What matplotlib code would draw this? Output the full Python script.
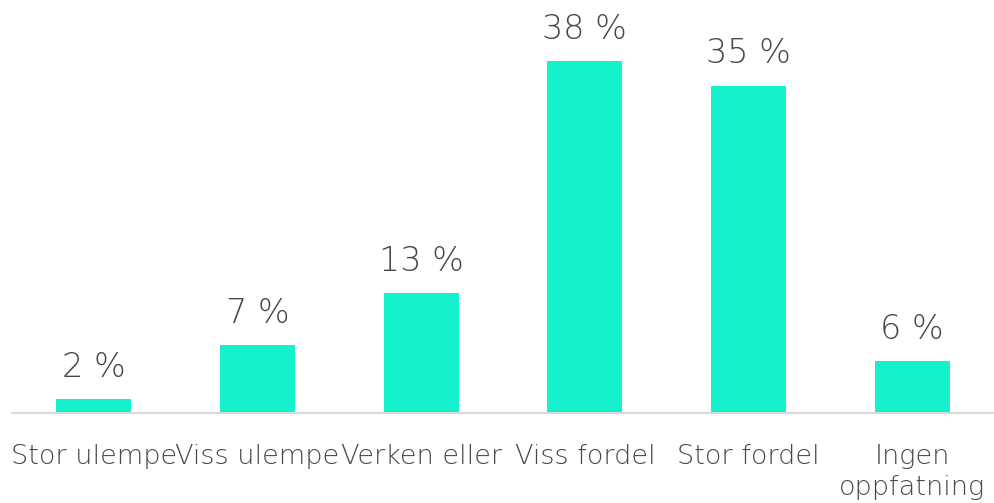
import matplotlib
matplotlib.use('Agg')
import matplotlib.pyplot as plt

# Answers and share of respondents (percent)
categories = ["Stor ulempe", "Viss ulempe", "Verken eller", "Viss fordel",
              "Stor fordel", "Ingen\noppfatning"]
shares = [1.5, 7.3, 12.9, 37.8, 35.2, 5.6]

BAR_COLOR = "#15F0CD"
TEXT_COLOR = "#474747"

plt.rcParams['font.family'] = ['DejaVu Sans']
plt.rcParams['font.weight'] = 'light'

fig = plt.figure(figsize=(9.94, 5.03), dpi=100)
# axes spans from the baseline (y=413px) to the top of the figure
ax = fig.add_axes([12 / 994, 1 - 413 / 503, 982 / 994, 413 / 503])

x = range(len(categories))
bars = ax.bar(x, shares, width=0.46, color=BAR_COLOR)

ax.set_xlim(-0.5, len(categories) - 0.5)
ax.set_ylim(0, 44.4)

for rect, val in zip(bars, shares):
    ax.annotate(f"{round(val)} %",
                (rect.get_x() + rect.get_width() / 2, rect.get_height()),
                xytext=(0, 16), textcoords="offset points",
                ha="center", va="baseline", fontsize=24,
                color=TEXT_COLOR, clip_on=False)

ax.set_xticks(list(x))
ax.set_xticklabels(categories, fontsize=19.5, color=TEXT_COLOR, linespacing=1.3)
ax.tick_params(axis="x", length=0, pad=22)
ax.set_yticks([])

for side in ["top", "right", "left"]:
    ax.spines[side].set_visible(False)
ax.spines["bottom"].set_color("#D9D9D9")
ax.spines["bottom"].set_linewidth(1.5)

fig.savefig("out.png", dpi=100)
